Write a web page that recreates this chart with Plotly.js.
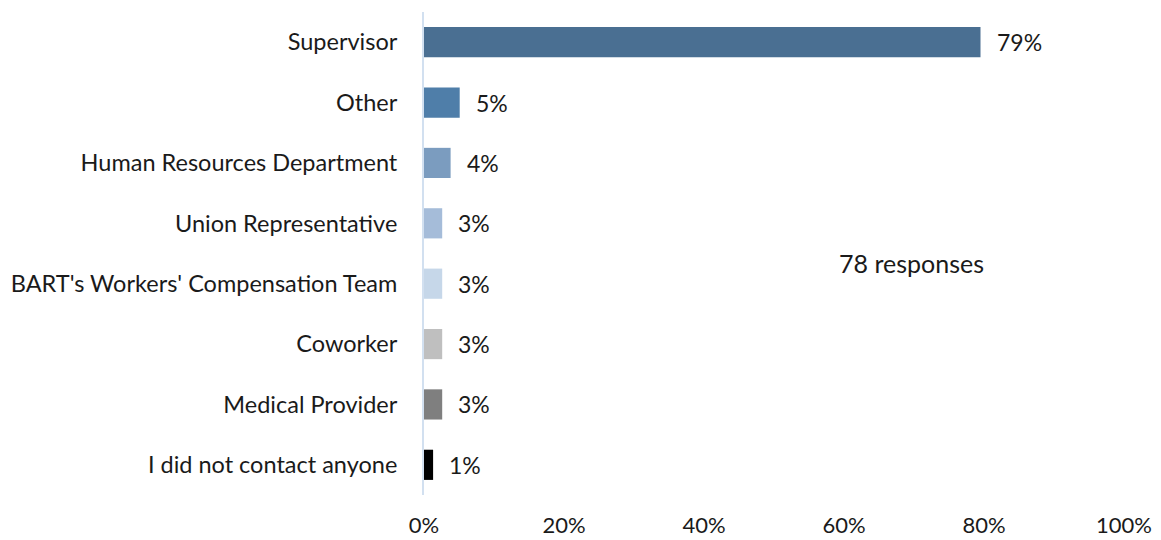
<!DOCTYPE html>
<html>
<head>
<meta charset="utf-8">
<script src="https://cdn.plot.ly/plotly-3.0.1.min.js"></script>
<style>html,body{margin:0;padding:0;background:#fff;}#chart{width:1161px;height:540px;}#chart text{font-variant-ligatures:none;}</style>
</head>
<body>
<div id="chart"></div>
<script>
var categories = ["Supervisor", "Other", "Human Resources Department", "Union Representative",
  "BART's Workers' Compensation Team", "Coworker", "Medical Provider", "I did not contact anyone"];
var values = [79.5, 5.1, 3.8, 2.6, 2.6, 2.6, 2.6, 1.3];
var valueLabels = ["79%", "5%", "4%", "3%", "3%", "3%", "3%", "1%"];
var barColors = ["#4a6f92", "#4f7ea9", "#7b9cbf", "#a5bcd9", "#c6d7e9", "#bfbfbf", "#7f7f7f", "#000000"];
var xTickValues = [0, 20, 40, 60, 80, 100];
var xTickLabels = ["0%", "20%", "40%", "60%", "80%", "100%"];
var noteText = "78 responses";

var font = "Lato, Open Sans, sans-serif";
var textColor = "#1a1a1a";

var trace = {
  type: "bar",
  orientation: "h",
  x: values,
  y: categories,
  width: 0.5,
  marker: {color: barColors, line: {width: 0}},
  hoverinfo: "none"
};

var annotations = values.map(function (v, i) {
  return {x: v, y: categories[i], xref: "x", yref: "y", text: valueLabels[i],
    showarrow: false, xanchor: "left", xshift: 14, yshift: 0,
    font: {family: font, size: 23, color: textColor}};
});
annotations.push({x: 0.697, y: 0.48, xref: "paper", yref: "paper", text: noteText,
  showarrow: false, xanchor: "center", yanchor: "middle",
  font: {family: font, size: 25, color: textColor}});

var layout = {
  width: 1161, height: 540,
  margin: {l: 424, r: 37, t: 12, b: 45},
  paper_bgcolor: "#ffffff", plot_bgcolor: "#ffffff",
  showlegend: false,
  bargap: 0.5,
  xaxis: {range: [0, 100], tickvals: xTickValues, ticktext: xTickLabels,
    showgrid: false, zeroline: false, showline: false, ticks: "",
    ticklabelstandoff: 15,
    tickfont: {family: font, size: 22, color: textColor}, fixedrange: true},
  yaxis: {categoryorder: "array", categoryarray: categories.slice().reverse(),
    autorange: true, showgrid: false, zeroline: false,
    showline: true, linecolor: "#d2e0f0", linewidth: 2, ticks: "",
    ticklabelstandoff: 20,
    tickfont: {family: font, size: 23.5, color: textColor}, fixedrange: true},
  annotations: annotations
};

Plotly.newPlot("chart", [trace], layout, {displayModeBar: false, staticPlot: true});
</script>
</body>
</html>
